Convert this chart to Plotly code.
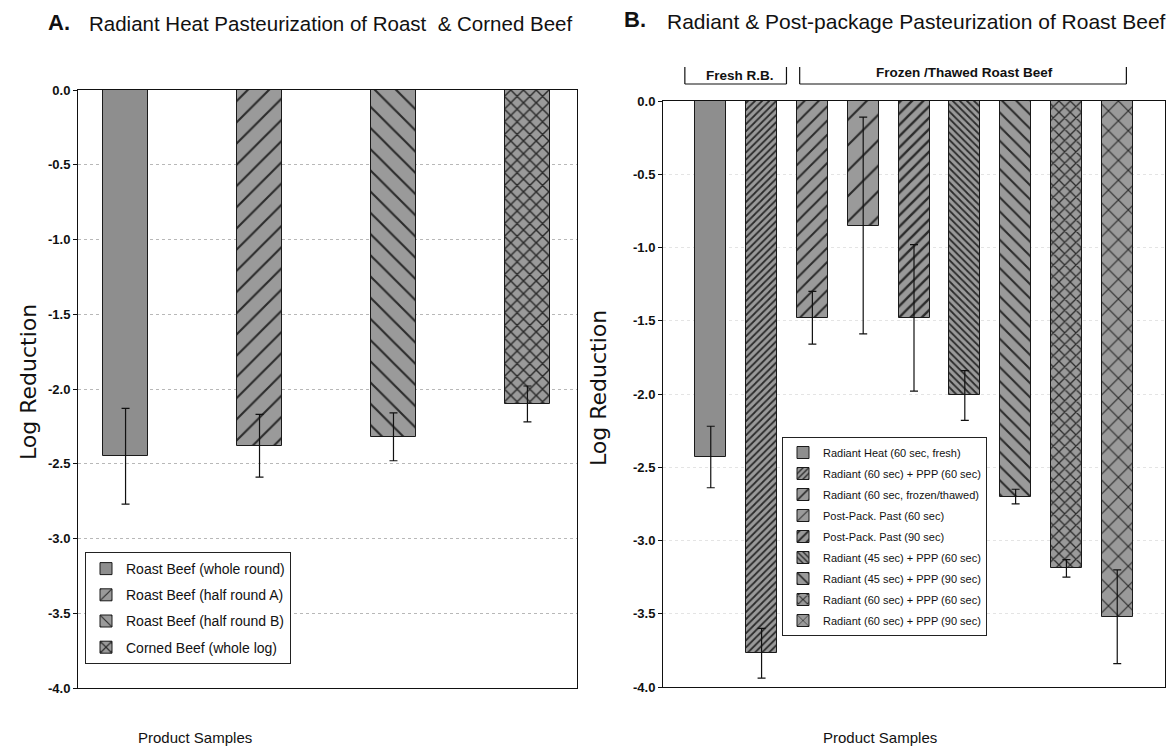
import plotly.graph_objects as go

# ---- Panel A: radiant heat pasteurization ----
a_samples = [
    "Roast Beef (whole round)",
    "Roast Beef (half round A)",
    "Roast Beef (half round B)",
    "Corned Beef (whole log)",
]
a_log_reduction = [-2.45, -2.38, -2.32, -2.10]
a_error = [0.32, 0.21, 0.16, 0.12]

# ---- Panel B: radiant & post-package pasteurization ----
b_samples = [
    "Radiant Heat (60 sec, fresh)",
    "Radiant (60 sec) + PPP (60 sec)",
    "Radiant (60 sec, frozen/thawed)",
    "Post-Pack. Past (60 sec)",
    "Post-Pack. Past (90 sec)",
    "Radiant (45 sec) + PPP (60 sec)",
    "Radiant (45 sec) + PPP (90 sec)",
    "Radiant (60 sec) + PPP (60 sec)",
    "Radiant (60 sec) + PPP (90 sec)",
]
b_log_reduction = [-2.43, -3.77, -1.48, -0.85, -1.48, -2.01, -2.70, -3.19, -3.52]
b_error = [0.21, 0.17, 0.18, 0.74, 0.50, 0.17, 0.05, 0.06, 0.32]

y_tick_values = [0.0, -0.5, -1.0, -1.5, -2.0, -2.5, -3.0, -3.5, -4.0]
y_tick_labels = ["0.0", "-0.5", "-1.0", "-1.5", "-2.0", "-2.5", "-3.0", "-3.5", "-4.0"]

group_labels = ["Fresh R.B.", "Frozen /Thawed Roast Beef"]

W, H = 1167, 751
FONT = "Liberation Sans, Arial, sans-serif"
BAR_BG = "#9a9a9a"
SOLID = "#8e8e8e"
HATCH = "#2b2b2b"

# hatch style per bar (shape, tile size, solidity)
a_patterns = [("", 8, 0.2), ("/", 15, 0.14), ("\\", 15, 0.14), ("x", 9, 0.3)]
b_patterns = [
    ("", 8, 0.2), ("/", 5, 0.35), ("/", 10, 0.2), ("/", 18, 0.12), ("/", 8, 0.3),
    ("\\", 5, 0.35), ("\\", 10, 0.2), ("x", 8, 0.3), ("x", 14, 0.16),
]


def px_x(p):
    return p / W


def px_y(p):
    return 1 - p / H


def bar_marker(pat):
    fill = BAR_BG if pat[0] else SOLID
    return dict(
        color=fill,
        line=dict(color="#1a1a1a", width=1),
        pattern=dict(shape=pat[0], size=pat[1], solidity=pat[2],
                     fgcolor=HATCH, bgcolor=fill, fillmode="replace"),
    )


fig = go.Figure()

for i, (name, val, err, pat) in enumerate(zip(a_samples, a_log_reduction, a_error, a_patterns)):
    fig.add_trace(go.Bar(
        x=[i], y=[val], name=name, width=0.34,
        xaxis="x", yaxis="y", legend="legend", legendgroup=f"a{i}",
        marker=bar_marker(pat),
        error_y=dict(type="data", array=[err], color="#111", thickness=1.2, width=4),
    ))

for i, (name, val, err, pat) in enumerate(zip(b_samples, b_log_reduction, b_error, b_patterns)):
    fig.add_trace(go.Bar(
        x=[i], y=[val], name=name, width=0.61,
        xaxis="x2", yaxis="y2", legend="legend2", legendgroup=f"b{i}",
        marker=bar_marker(pat),
        error_y=dict(type="data", array=[err], color="#111", thickness=1.2, width=4),
    ))

axis_common = dict(showline=True, mirror=True, linecolor="#111", linewidth=1, automargin=False)
yaxis_common = dict(
    range=[-4.0, 0.0], tickvals=y_tick_values, ticktext=y_tick_labels,
    ticks="outside", ticklen=4, tickcolor="#111",
    tickfont=dict(family=FONT, size=13, color="#111", weight="bold"),
    zeroline=False, **axis_common,
)

fig.update_layout(
    width=W, height=H,
    margin=dict(l=0, r=0, t=0, b=0, pad=0, autoexpand=False),
    paper_bgcolor="white", plot_bgcolor="white",
    barmode="overlay", bargap=0,
    xaxis=dict(domain=[px_x(78), px_x(577)], range=[-0.355, 3.37],
               showticklabels=False, showgrid=False, ticks="", zeroline=False, **axis_common),
    yaxis=dict(domain=[px_y(688), px_y(90)], anchor="x",
               showgrid=True, gridcolor="#b8b8b8", griddash="dot", gridwidth=1,
               **yaxis_common),
    xaxis2=dict(domain=[px_x(663), px_x(1165)], range=[-0.94, 8.94], anchor="y2",
                showticklabels=False, showgrid=False, ticks="", zeroline=False, **axis_common),
    yaxis2=dict(domain=[px_y(687), px_y(101)], anchor="x2",
                showgrid=True, gridcolor="#e4e4e4", griddash="dot", gridwidth=1,
                **yaxis_common),
    legend=dict(
        x=px_x(85), y=px_y(552), xanchor="left", yanchor="top",
        bordercolor="#222", borderwidth=1, bgcolor="white",
        font=dict(family=FONT, size=14, color="#111"),
        tracegroupgap=5, itemwidth=30,
    ),
    legend2=dict(
        x=px_x(782), y=px_y(437), xanchor="left", yanchor="top",
        bordercolor="#222", borderwidth=1, bgcolor="white",
        font=dict(family=FONT, size=11, color="#111"),
        tracegroupgap=2, itemwidth=30,
    ),
    showlegend=True,
)

annotations = [
    dict(text="<b>A.</b>", x=px_x(46), y=px_y(22), xanchor="left", yanchor="middle",
         font=dict(family=FONT, size=22, color="#111")),
    dict(text="Radiant Heat Pasteurization of Roast  & Corned Beef", x=px_x(87), y=px_y(23),
         xanchor="left", yanchor="middle", font=dict(family=FONT, size=20.5, color="#111")),
    dict(text="<b>B.</b>", x=px_x(622), y=px_y(20), xanchor="left", yanchor="middle",
         font=dict(family=FONT, size=22, color="#111")),
    dict(text="Radiant & Post-package Pasteurization of Roast Beef", x=px_x(665), y=px_y(21),
         xanchor="left", yanchor="middle", font=dict(family=FONT, size=21, color="#111")),
    dict(text="Log Reduction", x=px_x(28), y=px_y(382), textangle=-90,
         xanchor="center", yanchor="middle", font=dict(family="DejaVu Sans", size=22, color="#111")),
    dict(text="Log Reduction", x=px_x(598), y=px_y(388), textangle=-90,
         xanchor="center", yanchor="middle", font=dict(family="DejaVu Sans", size=22, color="#111")),
    dict(text="Product Samples", x=px_x(195), y=px_y(737), xanchor="center", yanchor="middle",
         font=dict(family=FONT, size=15, color="#111")),
    dict(text="Product Samples", x=px_x(880), y=px_y(737), xanchor="center", yanchor="middle",
         font=dict(family=FONT, size=15, color="#111")),
    dict(text="<b>" + group_labels[0] + "</b>", x=0.57, xref="x2", y=px_y(75), yref="paper",
         xanchor="center", yanchor="middle", font=dict(family=FONT, size=13.5, color="#111")),
    dict(text="<b>" + group_labels[1] + "</b>", x=5.0, xref="x2", y=px_y(73), yref="paper",
         xanchor="center", yanchor="middle", font=dict(family=FONT, size=13.5, color="#111")),
]
for ann in annotations:
    ann.setdefault("xref", "paper")
    ann.setdefault("yref", "paper")
    ann["showarrow"] = False
fig.update_layout(annotations=annotations)

# group brackets above panel B
brackets = [(-0.51, 1.49), (1.75, 8.18)]
shapes = []
for x0, x1 in brackets:
    for xv in (x0, x1):
        shapes.append(dict(type="line", xref="x2", yref="paper", x0=xv, x1=xv,
                           y0=px_y(67), y1=px_y(84), line=dict(color="#111", width=1.2)))
    shapes.append(dict(type="line", xref="x2", yref="paper", x0=x0, x1=x1,
                       y0=px_y(84), y1=px_y(84), line=dict(color="#111", width=1.2)))
fig.update_layout(shapes=shapes)

fig.write_html("out.html")
